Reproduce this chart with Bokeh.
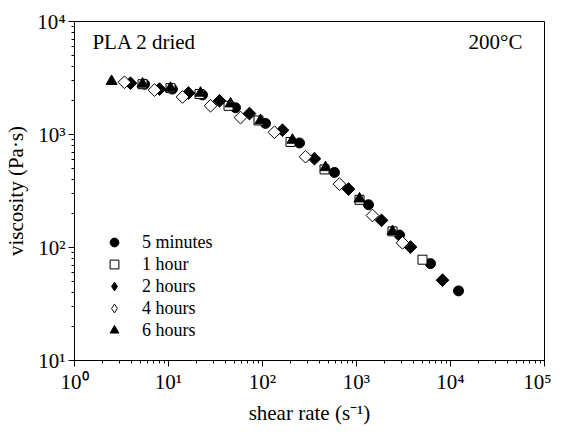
from bokeh.plotting import figure
from bokeh.models import Label, LegendItem
from bokeh.embed import file_html
from bokeh.resources import INLINE

# ---- data ----
rate_5min = [5.56, 11.0, 23.0, 51.6, 107.6, 247.6, 583, 1341, 2865, 6124, 12170]
visc_5min = [2787, 2523, 2239, 1726, 1254, 841, 462, 239, 129, 72, 41.3]

rate_1h = [5.29, 10.5, 21.4, 43.5, 90.6, 198.6, 457, 1077, 2415, 5035]
visc_1h = [2787, 2573, 2281, 1795, 1331, 859, 491, 264, 139, 78]

rate_2h = [3.94, 8.02, 16.3, 34.9, 72.7, 163, 357, 822, 1845, 3752, 8222]
visc_2h = [2843, 2523, 2328, 1985, 1531, 1091, 611, 329, 174, 101, 51.4]

rate_4h = [3.40, 7.10, 14.1, 28.0, 58.3, 134, 287, 659, 1479, 3085]
visc_4h = [2900, 2473, 2149, 1795, 1413, 1047, 636, 364, 192, 110]

rate_6h = [2.48, 5.29, 10.5, 21.9, 45.7, 95.2, 208, 468, 1077, 2415]
visc_6h = [2958, 2800, 2573, 2328, 1871, 1331, 893, 511, 270, 139]

x_tick_labels = {1: "10⁰", 10: "10¹", 100: "10²", 1000: "10³", 10000: "10⁴", 100000: "10⁵"}
y_tick_labels = {10: "10¹", 100: "10²", 1000: "10³", 10000: "10⁴"}

FONT = "Liberation Serif"

p = figure(width=551, height=427, x_axis_type="log", y_axis_type="log",
           x_range=(1, 1e5), y_range=(10, 1e4),
           output_backend="svg", toolbar_location=None,
           min_border_left=74, min_border_right=7, min_border_top=21, min_border_bottom=54)
p.grid.visible = False
p.outline_line_color = "black"
p.outline_line_width = 1
p.background_fill_color = "white"
p.border_fill_color = "white"

for ax, labels in ((p.xaxis[0], x_tick_labels), (p.yaxis[0], y_tick_labels)):
    ax.major_label_overrides = labels
    ax.major_label_text_font = FONT
    ax.major_label_text_font_size = "21px"
    ax.major_label_text_color = "black"
    ax.axis_label_text_font = FONT
    ax.axis_label_text_font_size = "21px"
    ax.axis_label_text_font_style = "normal"
    ax.axis_label_text_color = "black"
    ax.major_tick_in = 0
    ax.major_tick_out = 6
    ax.minor_tick_in = 0
    ax.minor_tick_out = 3
    ax.axis_line_color = "black"
    ax.major_tick_line_color = "black"
    ax.minor_tick_line_color = "black"
    ax.major_label_standoff = 3

p.xaxis.axis_label = "shear rate (s⁻¹)"
p.yaxis.axis_label = "viscosity (Pa·s)"
p.xaxis.axis_label_standoff = 4
p.yaxis.axis_label_standoff = 6

SIZE_D = 9
ANG = 0.785398

p.scatter(rate_5min, visc_5min, marker="circle", size=10, fill_color="black",
          line_color="black", legend_label="5 minutes")
p.scatter(rate_1h, visc_1h, marker="square", size=9, fill_color="white",
          line_color="black", line_width=1, legend_label="1 hour")
p.scatter(rate_2h, visc_2h, marker="square", size=SIZE_D, angle=ANG, fill_color="black",
          line_color="black")
p.scatter(rate_4h, visc_4h, marker="square", size=SIZE_D, angle=ANG, fill_color="white",
          line_color="black", line_width=1)
p.scatter(rate_6h, visc_6h, marker="triangle", size=11, fill_color="black",
          line_color="black", legend_label="6 hours")

# off-range proxies so that the legend shows diamonds for the rotated-square series
proxy_x = [1e-3]
proxy_y = [1e-3]
leg_2h = p.scatter(proxy_x, proxy_y, marker="diamond", size=15, fill_color="black", line_color="black")
leg_4h = p.scatter(proxy_x, proxy_y, marker="diamond", size=15, fill_color="white", line_color="black")

lg = p.legend[0]
items = list(lg.items)
lg.items = [items[0], items[1],
            LegendItem(label="2 hours", renderers=[leg_2h]),
            LegendItem(label="4 hours", renderers=[leg_4h]),
            items[2]]
lg.location = (27, 19)
lg.border_line_color = None
lg.background_fill_alpha = 0
lg.padding = 0
lg.margin = 0
lg.spacing = 0
lg.glyph_width = 26
lg.glyph_height = 22
lg.label_height = 22
lg.label_standoff = 15
lg.label_text_font = FONT
lg.label_text_font_size = "18px"
lg.label_text_color = "black"

p.add_layout(Label(x=1.55, y=6580, text="PLA 2 dried", text_font=FONT,
                   text_font_size="21px", text_baseline="middle", text_color="black"))
p.add_layout(Label(x=58300, y=6580, text="200°C", text_font=FONT,
                   text_font_size="21px", text_baseline="middle", text_align="right",
                   text_color="black"))

open("out.html", "w").write(file_html(p, INLINE))
